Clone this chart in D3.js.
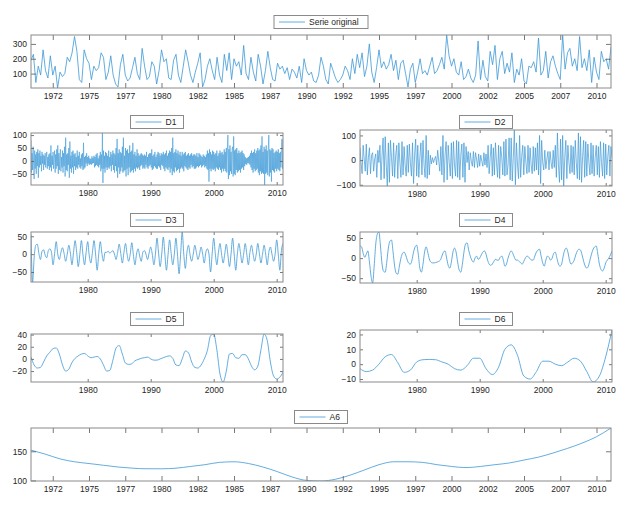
<!DOCTYPE html>
<html>
<head>
<meta charset="utf-8">
<script src="https://cdn.jsdelivr.net/npm/d3@7/dist/d3.min.js"></script>
<style>
    body { margin: 0; background: #fff; }
    svg text { font-family: "Liberation Sans", Arial, sans-serif; fill: #262626; }
</style>
</head>
<body>
<script>
// time span of every series (decimal years)
const startYear = 1971
const endYear = 2011

// original series, 6 samples per year (1971.0 ... 2011.0)
const serieOriginal = [
    190, 230, 40, 150, 90, 260,
    120, 70, 220, 90, 150, 3,
    110, 80, 100, 210, 180, 240,
    350, 250, 60, 40, 260, 200,
    170, 60, 150, 120, 140, 240,
    210, 60, 110, 220, 90, 30,
    10, 160, 230, 90, 50, 70,
    140, 210, 100, 60, 270, 150,
    60, 80, 180, 150, 30, 120,
    260, 180, 200, 70, 60, 190,
    230, 90, 40, 150, 260, 180,
    90, 40, 110, 170, 240, 10,
    60, 150, 200, 120, 60, 210,
    90, 40, 230, 120, 240, 60,
    200, 150, 180, 90, 290, 100,
    60, 210, 110, 50, 230, 150,
    30, 120, 250, 140, 60, 50,
    170, 130, 150, 100, 140, 60,
    130, 110, 70, 150, 40, 200,
    120, 90, 110, 50, 40, 90,
    210, 150, 60, 30, 170, 120,
    70, 40, 60, 90, 150, 120,
    60, 200, 100, 230, 140, 240,
    80, 150, 300, 110, 40, 140,
    260, 140, 180, 130, 160, 230,
    120, 190, 60, 170, 190, 100,
    10, 130, 170, 40, 110, 200,
    100, 120, 90, 150, 210, 100,
    120, 160, 210, 130, 360, 220,
    150, 200, 110, 90, 180, 60,
    80, 130, 70, 40, 90, 320,
    60, 190, 80, 50, 250, 160,
    290, 60, 200, 250, 100, 170,
    110, 240, 40, 130, 90, 200,
    50, 30, 150, 140, 180, 110,
    340, 90, 120, 250, 70, 180,
    220, 150, 100, 60, 360, 130,
    240, 270, 150, 200, 120, 350,
    140, 200, 120, 260, 40, 210,
    110, 60, 250, 180, 200, 130,
    280
]

// D1, 12 samples per year
const d1 = [
    80, -45, 30, -35, 55, -20, -70, 40, -30, 25, -50, 35,
    -20, 45, -65, 30, -25, 40, -15, 20, -40, 35, -10, 25,
    -35, 20, -15, 30, -25, 10, 35, -30, 15, -20, 25, -35,
    30, -25, 60, -40, 20, -15, 35, -30, 10, 40, -45, 25,
    -30, 45, -20, 60, -50, 30, -35, 20, 45, -40, 15, -25,
    40, -45, 30, -20, 55, -60, 90, -35, 25, -40, 30, -15,
    50, -65, 75, -30, 20, -45, 35, -25, 40, -50, 25, -20,
    30, -35, 15, -25, 40, -30, 20, -15, 35, -25, 10, -30,
    25, -20, 30, -35, 70, -30, 15, -25, 20, -10, 30, -20,
    15, -10, 20, -15, 10, -12, 8, -15, 18, -10, 12, -8,
    20, -25, 15, -20, 25, -15, 30, -20, 10, -25, 20, -15,
    35, -40, 25, -30, 108, -85, 40, -30, 20, -45, 35, -25,
    30, -35, 20, -25, 40, -30, 15, -20, 35, -40, 25, -15,
    40, -35, 30, -45, 25, -20, 50, -40, 85, -65, 30, -25,
    45, -50, 35, -40, 30, -25, 55, -45, 90, -40, 20, -35,
    50, -60, 40, -30, 45, -55, 30, -25, 60, -45, 35, -40,
    40, -35, 70, -45, 25, -30, 35, -40, 20, -25, 45, -30,
    30, -25, 20, -35, 25, -20, 30, -15, 25, -30, 20, -25,
    25, -30, 20, -15, 35, -25, 15, -30, 25, -20, 30, -15,
    30, -25, 45, -35, 20, -30, 25, -20, 35, -25, 15, -30,
    25, -30, 35, -20, 30, -25, 20, -35, 30, -15, 25, -20,
    35, -30, 25, -40, 30, -25, 40, -30, 20, -35, 30, -25,
    40, -45, 35, -30, 50, -55, 90, -40, 30, -45, 35, -25,
    45, -40, 30, -35, 40, -30, 25, -45, 35, -30, 20, -25,
    35, -30, 25, -40, 30, -20, 35, -25, 20, -30, 25, -35,
    30, -25, 20, -30, 25, -15, 30, -25, 20, -20, 25, -30,
    25, -30, 20, -25, 30, -20, 15, -25, 30, -20, 25, -15,
    20, -25, 15, -20, 25, -15, 20, -25, 15, -20, 25, -30,
    40, -35, 30, -80, 45, -30, 35, -40, 25, -30, 40, -35,
    35, -30, 25, -40, 30, -25, 40, -30, 20, -35, 30, -25,
    40, -35, 30, -45, 35, -30, 25, -40, 45, -30, 35, -40,
    50, -45, 40, 100, -70, 45, -55, 60, -40, 35, -50, 45,
    55, -60, 95, -50, 40, -55, 45, -35, 50, -45, 30, -40,
    40, -35, 30, -45, 35, -30, 40, -25, 30, -35, 25, -20,
    15, -12, 10, -15, 12, -8, 15, -10, 20, -15, 30, -25,
    40, -35, 30, -45, 35, -30, 45, -40, 30, -35, 40, -30,
    50, -45, 40, -55, 45, -40, 60, -50, 95, -45, 35, -50,
    55, -93, 45, -50, 60, -45, 40, -55, 50, 100, -60, 45,
    -45, 40, -80, 50, -35, 45, -40, 30, -45, 35, -30, 40,
    -40, 35, -30, 45, -35, 30, -40, 35, -25, 40, 85, -30,
    80
]

// D2, 6 samples per year
const d2 = [
    50, -10, -55, 60, 5, -45,
    65, -60, 10, 50, -55, 20,
    30, -45, 5, 25, -70, 40,
    -10, 60, -80, 20, 90, -75,
    95, -20, -105, 70, -90, 80,
    10, -65, 70, -70, 20, 60,
    -75, 70, -10, -70, 75, -60,
    55, -20, -65, 60, -50, 65,
    -10, -65, 70, -95, 20, 85,
    -65, 60, -70, 10, 70, -60,
    80, -20, -70, 100, -75, 40,
    -60, 20, -15, 10, -10, 5,
    15, -20, 40, -5, -45, 55,
    -60, 100, -90, 20, 75, -80,
    60, -10, -65, 70, -75, 75,
    -20, -65, 80, -70, 75, -80,
    20, 65, -70, 70, -90, 55,
    -10, 35, -40, 30, -5, -25,
    35, -30, 30, 5, -30, 25,
    -25, 20, -5, -25, 30, -20,
    25, -30, 60, -55, 10, 65,
    -65, 50, -60, 70, -10, -70,
    60, -75, 55, 10, -60, 75,
    -65, 85, -60, -20, 90, -80,
    90, -85, 10, 122, -100, 70,
    -20, -75, 100, -70, 15, 60,
    -60, 55, -10, -55, 60, -50,
    50, -20, -55, 55, -45, 50,
    -40, 70, -60, 100, -95, 80,
    -10, -40, 40, -35, 5, 35,
    -40, 35, -10, -35, 40, -30,
    60, -70, 110, -20, -90, 85,
    -80, 100, -105, 10, 80, -75,
    60, -10, -55, 60, -50, 55,
    -60, 80, -10, -75, 110, -80,
    95, -90, 15, 80, -70, 75,
    -65, 65, -10, -60, 70, -55,
    60, -65, 10, 60, -60, 55,
    -70, 75, -10, -65, 70, -75,
    65, -60, 15, 60, -65, 55,
    10
]

// D3, 4 samples per year
const d3s = [
    55, -78, -10, 25,
    28, 2, -15, 8,
    12, -3, -10, 10,
    15, 5, -30, 2,
    35, 0, -15, 5,
    18, 2, -20, 0,
    25, 3, -30, 5,
    38, 5, -35, 0,
    38, -2, -30, 5,
    35, -5, -25, 5,
    38, 0, -45, 0,
    35, 2, -20, 5,
    5, 8, 3, 6,
    10, 0, -15, 5,
    28, 2, -25, 5,
    30, 0, -20, 0,
    32, -2, -30, 0,
    15, -5, -20, 5,
    10, 0, -15, 3,
    20, 0, -30, 0,
    45, 3, -35, 0,
    48, 0, -45, -2,
    40, 2, -30, 0,
    45, 0, -55, 0,
    62, 0, -40, 5,
    25, -2, -20, 0,
    25, 5, -15, 0,
    20, 0, -25, 5,
    15, 0, -50, 0,
    45, 2, -30, 5,
    30, 0, -25, 0,
    28, -2, -35, 0,
    45, 0, -45, 0,
    30, 3, -25, 0,
    30, 0, -30, 5,
    25, 0, -20, 0,
    30, 2, -25, 0,
    25, 0, -30, 5,
    20, 0, -20, 0,
    40, 0, -45, 10,
    30
]

// D4, 4 samples per year
const d4 = [
    30, 28, 12, 2,
    10, 18, -10, -45,
    -62, -20, 35, 60,
    65, 30, -15, -33,
    -35, -10, 25, 42,
    45, 15, -20, -38,
    -40, -20, 0, 12,
    15, 8, -5, -13,
    -15, -5, 15, 28,
    32, 10, -25, -35,
    -15, 15, 28, 15,
    -2, -10, -12, -12,
    -11, -10, -8, -5,
    5, 15, 18, 0,
    -18, -25, -10, 15,
    25, 15, -10, -30,
    -35, -15, 15, 35,
    38, 20, 5, -5,
    -10, 0, 5, -3,
    0, 8, 15, 18,
    10, -5, -15, -18,
    -15, -8, -3, -5,
    -5, 2, 5, -5,
    -20, -15, 0, 12,
    18, 12, 2, -5,
    -5, -8, -12, -15,
    -8, 0, 5, 3,
    -2, -5, -5, 5,
    15, 20, 22, 5,
    -12, -20, -5, 5,
    2, -5, 0, 12,
    15, 0, -15, -20,
    -15, 5, 20, 25,
    15, -5, -15, -12,
    -5, 8, 18, 22,
    20, 8, -8, -20,
    -25, -20, -5, 10,
    22, 28, 30, 10,
    -15, -28, -32, -25,
    -12, -5, 0, 8,
    18
]

// D5, 2 samples per year
const d5 = [
    3, -10, -15, -14, -5, 5, 11, 17, 18, 8,
    -10, -20, -17, -6, 1, 5, 8, 9, 5, 2,
    3, 4, 0, -10, -20, -19, -2, 18, 22, 8,
    -7, -9, -8, -3, -1, 1, 2, 3, 0, -2,
    -2, 0, 2, 4, 5, 1, -10, -11, 0, 13,
    10, -5, -14, -15, -10, 0, 14, 38, 41, 15,
    -25, -38, -20, 8, 9, 2, 1, 7, 7, 0,
    -12, -18, -12, 15, 41, 30, -5, -28, -33, -30,
    -22
]

// D6, 1 sample per year
const d6 = [
    -3, -5, -4, 0, 5, 6.5, 1, -5.5, -4, 1.5,
    3, 3.2, 3, 1.5, 0, -3, -4, -1, 4, 4,
    -3, -7, -2, 10, 13, 6, -8, -10, -5, 2,
    2, 0, -1, 1.5, 4, 2, -5, -12, -8, 5,
    23
]

// A6, 1 sample per year
const a6 = [
    152, 145, 137, 132, 129, 126, 123, 121, 120, 120,
    121, 124, 127, 131, 132, 129, 123, 115, 106, 100,
    99, 102, 109, 118, 127, 132, 132, 131, 127, 124,
    122, 124, 127, 130, 135, 140, 147, 155, 164, 175,
    190
]

// tick marks
const wideTickYears = [1972.5, 1975, 1977.5, 1980, 1982.5, 1985, 1987.5, 1990,
    1992.5, 1995, 1997.5, 2000, 2002.5, 2005, 2007.5, 2010]
const wideTickLabels = ['1972', '1975', '1977', '1980', '1982', '1985', '1987', '1990',
    '1992', '1995', '1997', '2000', '2002', '2005', '2007', '2010']
const narrowTickYears = [1980, 1990, 2000, 2010]
const narrowTickLabels = ['1980', '1990', '2000', '2010']

const lineColor = '#3c98d6'
const boxColor = '#8a8a8a'

const svg = d3.select('body').append('svg')
    .attr('width', 624)
    .attr('height', 519)

const panels = [
    { name: 'Serie original', values: serieOriginal, perYear: 6, box: [31, 35, 611, 88], legendY: 22, legendW: 94,
        yTicks: [100, 200, 300], wide: true, curve: d3.curveLinear, width: 0.8 },
    { name: 'D1', values: d1, perYear: 12, box: [31, 133, 283, 185], legendY: 122, legendW: 53,
        yTicks: [-50, 0, 50, 100], curve: d3.curveLinear, width: 0.6 },
    { name: 'D2', values: d2, perYear: 6, box: [360, 130, 612, 186], legendY: 122, legendW: 53,
        yTicks: [-100, 0, 100], curve: d3.curveLinear, width: 0.7 },
    { name: 'D3', values: d3s, perYear: 4, box: [31, 232, 283, 282], legendY: 220, legendW: 53,
        yTicks: [-50, 0, 50], curve: d3.curveMonotoneX, width: 0.8 },
    { name: 'D4', values: d4, perYear: 4, box: [360, 232, 612, 283], legendY: 220, legendW: 53,
        yTicks: [-50, 0, 50], curve: d3.curveMonotoneX, width: 0.8 },
    { name: 'D5', values: d5, perYear: 2, box: [31, 334, 283, 382], legendY: 319, legendW: 53,
        yTicks: [-20, 0, 20, 40], curve: d3.curveMonotoneX, width: 0.8 },
    { name: 'D6', values: d6, perYear: 1, box: [360, 330, 612, 382], legendY: 319, legendW: 53,
        yTicks: [-10, 0, 10, 20], curve: d3.curveMonotoneX, width: 0.8 },
    { name: 'A6', values: a6, perYear: 1, box: [31, 428, 611, 481], legendY: 417, legendW: 53,
        yTicks: [100, 150], wide: true, curve: d3.curveMonotoneX, width: 0.8 }
]

panels.forEach((p, k) => drawPanel(p, k))

function drawPanel(p, k) {
    const [x0, y0, x1, y1] = p.box
    const xScale = d3.scaleLinear().domain([startYear, endYear]).range([x0, x1])
    // axis tight: y limits are the data limits
    const yScale = d3.scaleLinear().domain(d3.extent(p.values)).range([y1, y0])

    const g = svg.append('g')

    g.append('clipPath')
        .attr('id', 'clip' + k)
        .append('rect')
        .attr('x', x0).attr('y', y0)
        .attr('width', x1 - x0).attr('height', y1 - y0)

    const line = d3.line()
        .x((d, i) => xScale(startYear + i / p.perYear))
        .y(d => yScale(d))
        .curve(p.curve)

    g.append('path')
        .datum(p.values)
        .attr('clip-path', `url(#clip${k})`)
        .attr('fill', 'none')
        .attr('stroke', lineColor)
        .attr('stroke-width', p.width)
        .attr('stroke-linejoin', 'round')
        .attr('d', line)

    const tickYears = p.wide ? wideTickYears : narrowTickYears
    const tickLabels = p.wide ? wideTickLabels : narrowTickLabels
    const tickLen = p.wide ? 5 : 3

    const bottom = g.append('g')
        .attr('transform', `translate(0,${y1})`)
        .call(d3.axisBottom(xScale).tickValues(tickYears)
            .tickSize(-tickLen).tickPadding(5)
            .tickFormat((d, i) => tickLabels[i]))
    const top = g.append('g')
        .attr('transform', `translate(0,${y0})`)
        .call(d3.axisTop(xScale).tickValues(tickYears).tickSize(-tickLen).tickFormat(''))
    const left = g.append('g')
        .attr('transform', `translate(${x0},0)`)
        .call(d3.axisLeft(yScale).tickValues(p.yTicks).tickSize(-tickLen).tickPadding(4))
    const right = g.append('g')
        .attr('transform', `translate(${x1},0)`)
        .call(d3.axisRight(yScale).tickValues(p.yTicks).tickSize(-tickLen).tickFormat(''))

    ;[bottom, top, left, right].forEach(a => {
        a.select('.domain').remove()
        a.selectAll('line').attr('stroke', '#555').attr('stroke-width', 0.8)
        a.selectAll('text').attr('font-size', 8.5).attr('fill', '#262626')
            .attr('font-family', '"Liberation Sans", Arial, sans-serif')
    })

    g.append('rect')
        .attr('x', x0).attr('y', y0)
        .attr('width', x1 - x0).attr('height', y1 - y0)
        .attr('fill', 'none')
        .attr('stroke', boxColor)
        .attr('stroke-width', 1)

    // legend above the axes
    const lx = (x0 + x1) / 2 - p.legendW / 2
    const leg = g.append('g').attr('transform', `translate(${lx},${p.legendY - 6.5})`)
    leg.append('rect')
        .attr('width', p.legendW).attr('height', 13)
        .attr('fill', '#fff')
        .attr('stroke', boxColor)
        .attr('stroke-width', 1)
    leg.append('line')
        .attr('x1', 5).attr('x2', 31)
        .attr('y1', 6.5).attr('y2', 6.5)
        .attr('stroke', lineColor)
        .attr('stroke-width', 0.8)
    leg.append('text')
        .attr('x', 35).attr('y', 6.5)
        .attr('dy', '0.35em')
        .attr('font-size', 8.5)
        .text(p.name)
}
</script>
</body>
</html>
